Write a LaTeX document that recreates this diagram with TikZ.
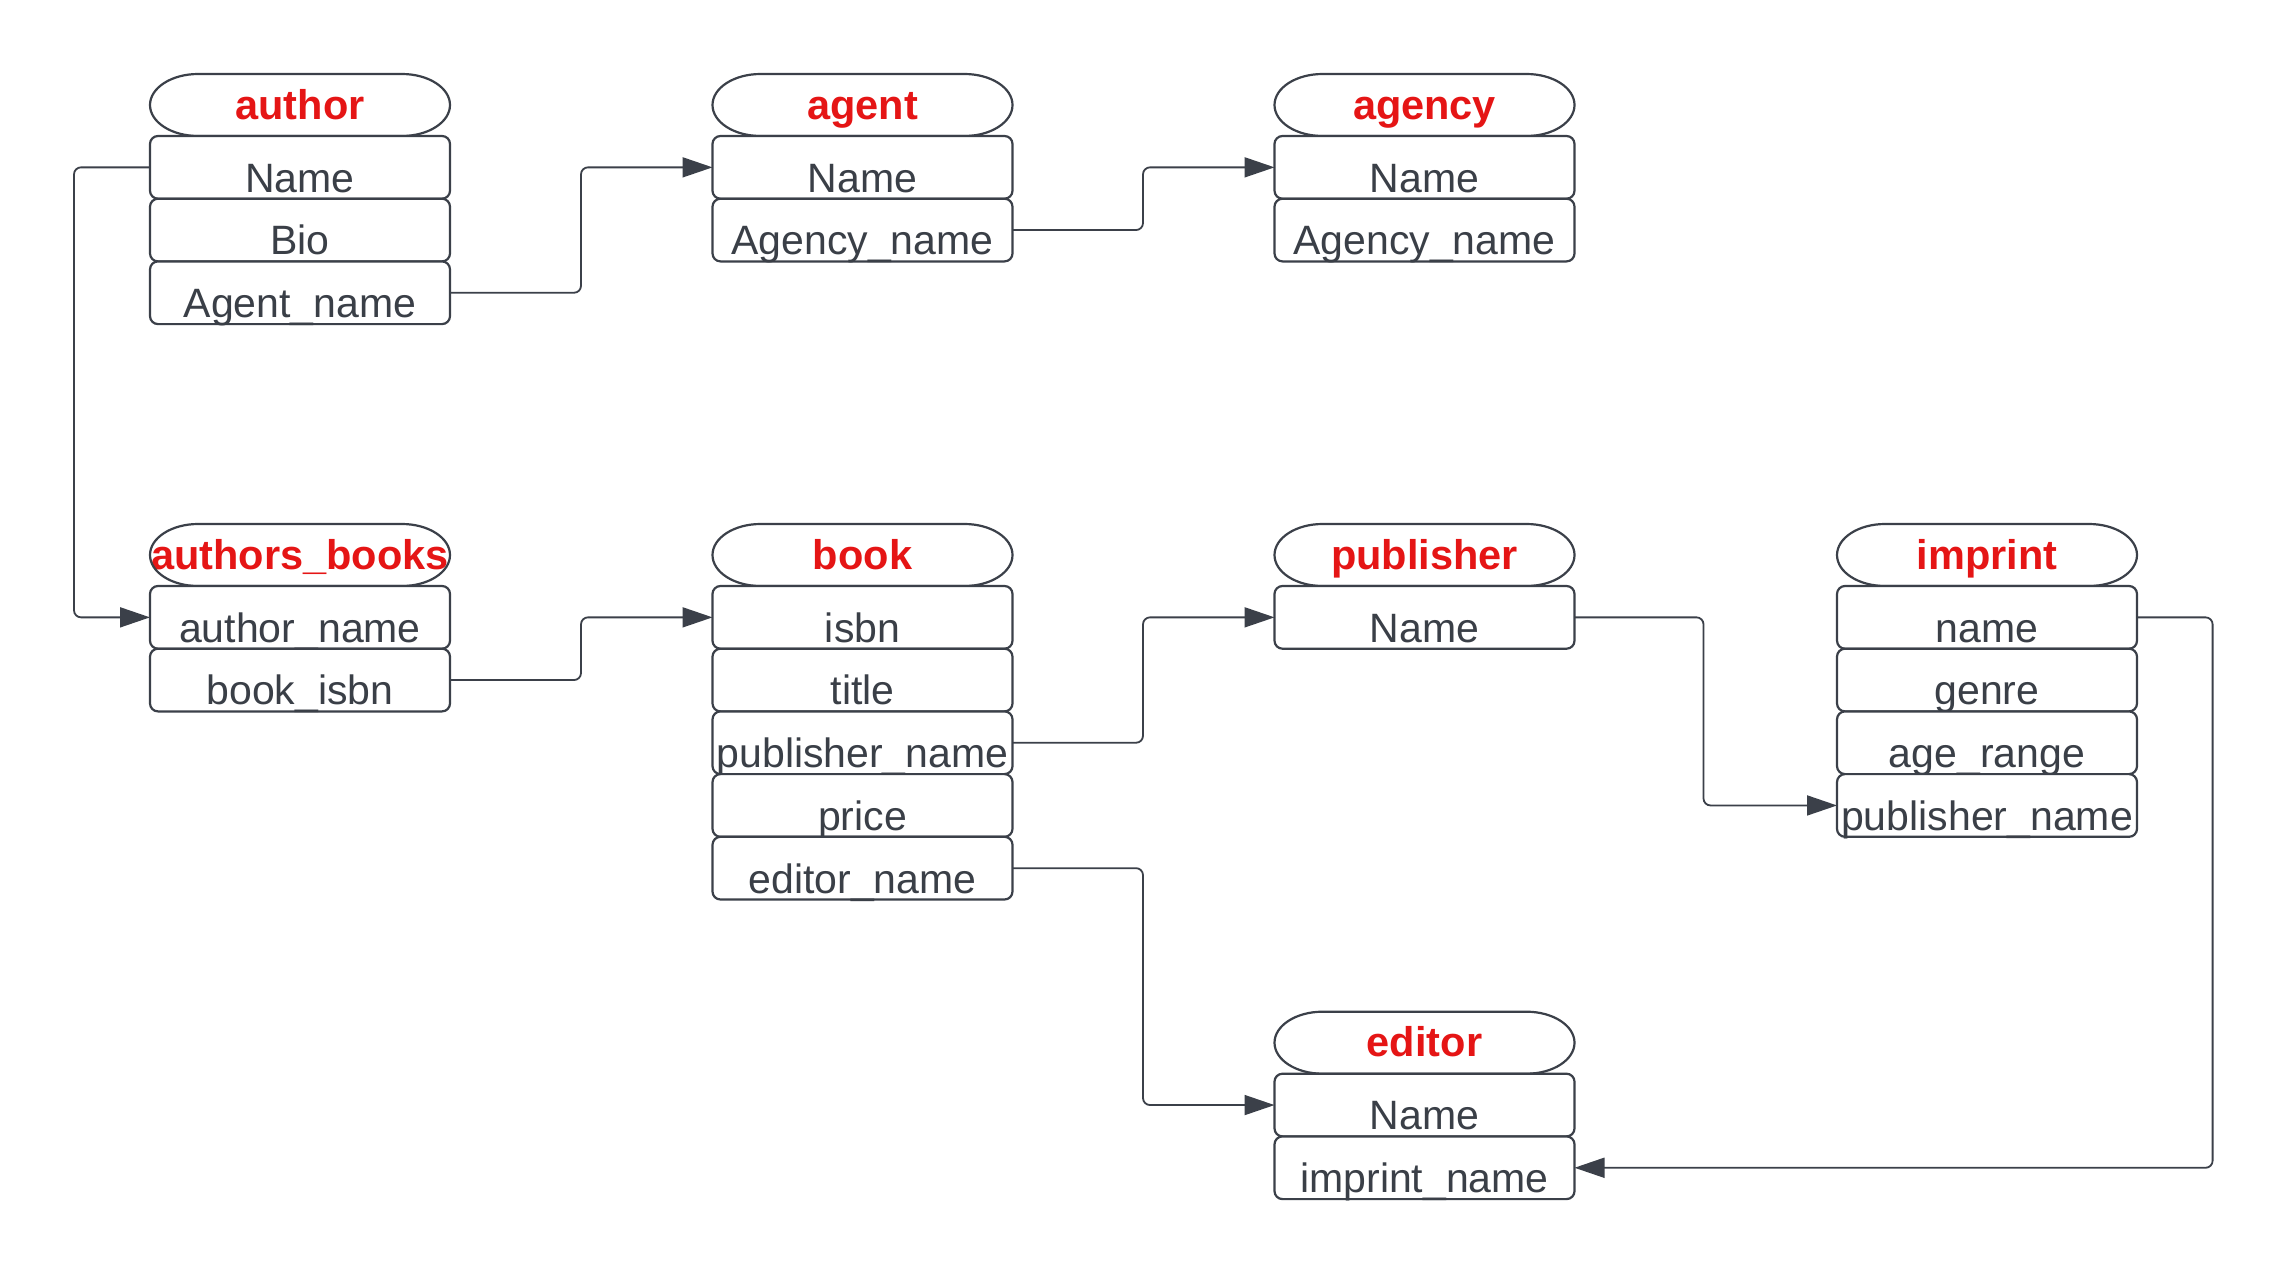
\documentclass[tikz,border=0pt]{standalone}
\usepackage{fontspec}
\setmainfont{Liberation Sans}
\usetikzlibrary{arrows.meta,calc}
\definecolor{linec}{HTML}{3B4049}
\definecolor{txtc}{HTML}{3A3F47}
\definecolor{ttlc}{HTML}{E51515}
\tikzset{
 rowbox/.style={draw=linec, line width=2.2pt, rounded corners=8pt, fill=white, minimum width=300pt, minimum height=62.7pt, inner xsep=0pt, inner ysep=0pt, outer sep=0pt, text height=56.2pt, text depth=6.5pt, anchor=north, text=txtc, font=\fontsize{41}{41}\selectfont},
 ttlbox/.style={minimum width=300pt, minimum height=62pt, inner sep=0pt, outer sep=0pt, text height=45pt, text depth=17pt, anchor=north west, text=ttlc, font=\bfseries\fontsize{41.5}{41.5}\selectfont},
 ttlshape/.style={draw=linec, line width=2.2pt},
 conn/.style={draw=linec, line width=1.8pt, rounded corners=7pt, -{Triangle[length=30pt,width=20pt]}},
}
\newcommand\ttlframe[1]{\draw[ttlshape] ($(#1.north west)+(48pt,0pt)$) -- ($(#1.north east)+(-48pt,0pt)$) arc[start angle=90,end angle=-90,x radius=48pt,y radius=31pt] -- ($(#1.south west)+(48pt,0pt)$) arc[start angle=270,end angle=90,x radius=48pt,y radius=31pt] -- cycle;}
\begin{document}
\begin{tikzpicture}[x=1pt,y=-1pt]
\fill[white] (0,0) rectangle (2289,1275);
\useasboundingbox (0,0) rectangle (2289,1275);
% author
\node[ttlbox] (aT) at (150,74) {author}; \ttlframe{aT}
\node[rowbox] (aN) at (aT.south) {Name};
\node[rowbox] (aB) at (aN.south) {Bio};
\node[rowbox] (aA) at (aB.south) {Agent\_name};
% agent
\node[ttlbox] (agT) at (712.5,74) {agent}; \ttlframe{agT}
\node[rowbox] (agN) at (agT.south) {Name};
\node[rowbox] (agA) at (agN.south) {Agency\_name};
% agency
\node[ttlbox] (gyT) at (1274.5,74) {agency}; \ttlframe{gyT}
\node[rowbox] (gyN) at (gyT.south) {Name};
\node[rowbox] (gyA) at (gyN.south) {Agency\_name};
% authors_books
\node[ttlbox] (abT) at (150,524) {authors\_books}; \ttlframe{abT}
\node[rowbox] (abA) at (abT.south) {author\_name};
\node[rowbox] (abB) at (abA.south) {book\_isbn};
% book
\node[ttlbox] (bT) at (712.5,524) {book}; \ttlframe{bT}
\node[rowbox] (bI) at (bT.south) {isbn};
\node[rowbox] (bTi) at (bI.south) {title};
\node[rowbox] (bP) at (bTi.south) {publisher\_name};
\node[rowbox] (bPr) at (bP.south) {price};
\node[rowbox] (bE) at (bPr.south) {editor\_name};
% publisher
\node[ttlbox] (pT) at (1274.5,524) {publisher}; \ttlframe{pT}
\node[rowbox] (pN) at (pT.south) {Name};
% imprint
\node[ttlbox] (iT) at (1837,524) {imprint}; \ttlframe{iT}
\node[rowbox] (iN) at (iT.south) {name};
\node[rowbox] (iG) at (iN.south) {genre};
\node[rowbox] (iA) at (iG.south) {age\_range};
\node[rowbox] (iP) at (iA.south) {publisher\_name};
% editor
\node[ttlbox] (eT) at (1274.5,1011.7) {editor}; \ttlframe{eT}
\node[rowbox] (eN) at (eT.south) {Name};
\node[rowbox] (eI) at (eN.south) {imprint\_name};
% connectors
\draw[conn] (aN.west) -- ++(-76,0) |- (abA.west);
\draw[conn] (aA.east) -- ++(131,0) |- (agN.west);
\draw[conn] (agA.east) -- ++(130.5,0) |- (gyN.west);
\draw[conn] (abB.east) -- ++(131,0) |- (bI.west);
\draw[conn] (bP.east) -- ++(130.5,0) |- (pN.west);
\draw[conn] (bE.east) -- ++(130.5,0) |- (eN.west);
\draw[conn] (pN.east) -- ++(129,0) |- (iP.west);
\draw[conn] (iN.east) -- ++(75.6,0) |- (eI.east);
\end{tikzpicture}
\end{document}
